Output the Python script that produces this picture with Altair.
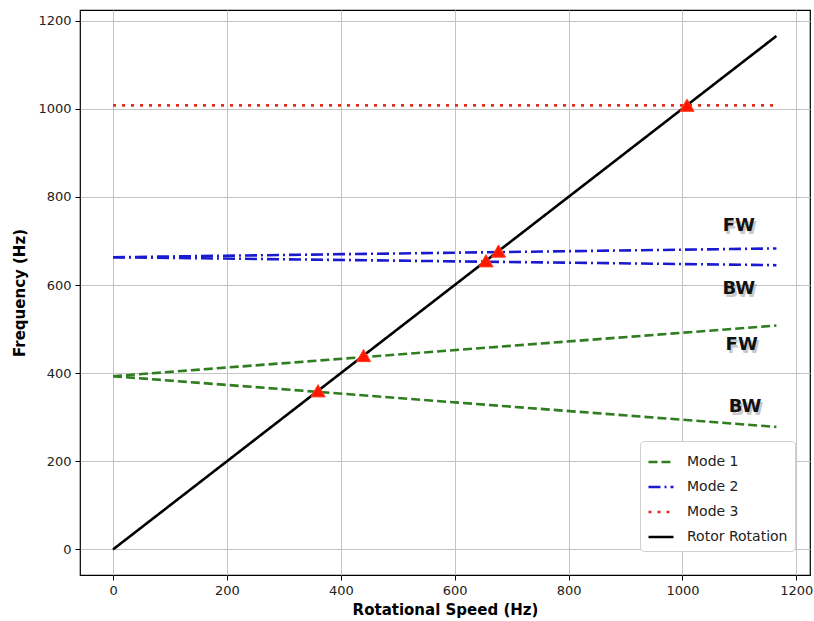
import altair as alt
import pandas as pd

# ---- data ----
speed = [0, 1165]
mode1_fw = [393, 508]
mode1_bw = [393, 278]
mode2_fw = [663, 683]
mode2_bw = [663, 645]
mode3_fw = [1008, 1008]
mode3_bw = [1008, 1008]
rotor = [0, 1165]

cross_x = [360, 440, 655, 677, 1008]
cross_y = [360, 440, 655, 677, 1008]

lab_text = ["FW", "BW", "FW", "BW"]
lab_x = [1099, 1099, 1104, 1110]
lab_y = [733, 592, 464, 323]

tick_vals = [0, 200, 400, 600, 800, 1000, 1200]

series_order = ["Mode 1", "Mode 2", "Mode 3", "Rotor Rotation"]
series_colors = ["#2f7d1f", "#1a1ad0", "#e0301e", "#000000"]
series_dash = [[9, 4], [12, 4, 2, 4], [3, 6], [1, 0]]
series_width = [2.6, 2.6, 3.4, 2.8]

rows = []
for name, branch, ys in [
    ("Mode 1", "FW", mode1_fw), ("Mode 1", "BW", mode1_bw),
    ("Mode 2", "FW", mode2_fw), ("Mode 2", "BW", mode2_bw),
    ("Mode 3", "FW", mode3_fw), ("Mode 3", "BW", mode3_bw),
    ("Rotor Rotation", "R", rotor),
]:
    for xv, yv in zip(speed, ys):
        rows.append({"series": name, "branch": name + branch, "x": xv, "y": yv})
lines_df = pd.DataFrame(rows)
cross_df = pd.DataFrame({"x": cross_x, "y": cross_y})
lab_df = pd.DataFrame({"t": lab_text, "x": lab_x, "y": lab_y})

xs = alt.Scale(domain=[-58, 1224], nice=False, zero=False)
ys = alt.Scale(domain=[-58, 1224], nice=False, zero=False)
xaxis = alt.Axis(values=tick_vals, format="d", title="Rotational Speed (Hz)")
yaxis = alt.Axis(values=tick_vals, format="d", title="Frequency (Hz)")

lines = alt.Chart(lines_df).mark_line().encode(
    x=alt.X("x:Q", scale=xs, axis=xaxis),
    y=alt.Y("y:Q", scale=ys, axis=yaxis),
    detail="branch:N",
    color=alt.Color("series:N", scale=alt.Scale(domain=series_order, range=series_colors),
                    legend=alt.Legend(title=None)),
    strokeDash=alt.StrokeDash("series:N", scale=alt.Scale(domain=series_order, range=series_dash),
                              legend=alt.Legend(title=None)),
    strokeWidth=alt.StrokeWidth("series:N", scale=alt.Scale(domain=series_order, range=series_width),
                                legend=None),
)

tri = alt.Chart(cross_df).mark_point(shape="triangle-up", filled=True, size=200,
                                      color="#ff1500", opacity=1,
                                      stroke="#ff4020", strokeWidth=1).encode(
    x=alt.X("x:Q", scale=xs), y=alt.Y("y:Q", scale=ys))

shadow = alt.Chart(lab_df).mark_text(font="DejaVu Sans", fontWeight="bold", fontSize=18,
                                     color="#888888", opacity=0.45, dx=2, dy=3,
                                     align="center", baseline="middle").encode(
    x=alt.X("x:Q", scale=xs), y=alt.Y("y:Q", scale=ys), text="t:N")

labels = alt.Chart(lab_df).mark_text(font="DejaVu Sans", fontWeight="bold", fontSize=18,
                                     color="#111111", align="center", baseline="middle").encode(
    x=alt.X("x:Q", scale=xs), y=alt.Y("y:Q", scale=ys), text="t:N")

chart = alt.layer(lines, tri, shadow, labels).properties(
    width=730, height=565,
    autosize=alt.AutoSizeParams(type="none"),
    padding={"left": 80, "top": 10, "right": 4, "bottom": 46},
).configure_view(
    stroke="#000000", strokeWidth=1.2
).configure_axis(
    domain=False,
    grid=True, gridColor="#c4c4c4", gridWidth=1,
    ticks=True, tickColor="#000000", tickSize=5, tickWidth=1,
    labelFont="DejaVu Sans", labelFontSize=13, labelColor="#222222", labelPadding=4,
    titleFont="DejaVu Sans", titleFontSize=15, titleFontWeight="bold", titleColor="#000000",
).configure_axisX(
    titlePadding=5
).configure_axisY(
    titlePadding=10
).configure_legend(
    orient="none", legendX=560, legendY=431,
    fillColor="#ffffff", strokeColor="#d0d0d0", padding=7, cornerRadius=4,
    symbolType="stroke", symbolSize=625, symbolStrokeWidth=2.6,
    labelFont="DejaVu Sans", labelFontSize=14, labelColor="#222222",
    labelOffset=12, rowPadding=4,
)

chart.save("out.html", embed_options={"renderer": "svg", "actions": False})
